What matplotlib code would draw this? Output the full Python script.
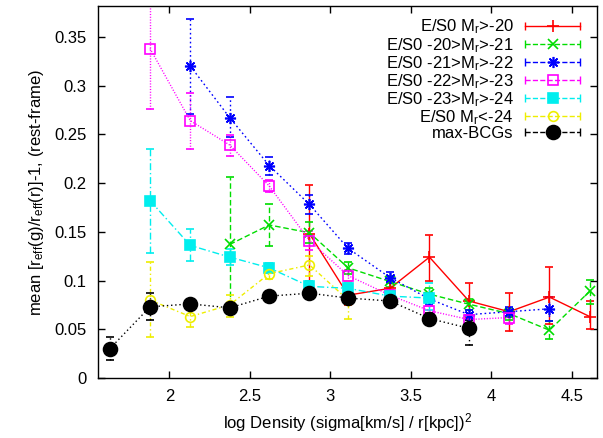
import matplotlib
matplotlib.use("Agg")
import matplotlib.pyplot as plt
from matplotlib.lines import Line2D
from matplotlib.legend_handler import HandlerBase
import numpy as np

plt.rcParams['font.family'] = ['Liberation Sans', 'DejaVu Sans']
plt.rcParams['mathtext.fontset'] = 'custom'
plt.rcParams['mathtext.rm'] = 'Liberation Sans'
plt.rcParams['mathtext.it'] = 'Liberation Sans:italic'

# density bin centres
x_bins = [1.63, 1.88, 2.13, 2.375, 2.62, 2.87, 3.11, 3.37, 3.615, 3.86, 4.11, 4.36, 4.61]

# E/S0 Mr>-20
red_x = [2.87, 3.11, 3.37, 3.615, 3.86, 4.11, 4.36, 4.61]
red_y = [0.148, 0.085, 0.092, 0.124, 0.079, 0.068, 0.083, 0.063]
red_lo = [0.100, 0.075, 0.082, 0.100, 0.062, 0.048, 0.055, 0.050]
red_hi = [0.198, 0.095, 0.100, 0.147, 0.0975, 0.087, 0.114, 0.079]

# E/S0 -20>Mr>-21
green_x = [2.375, 2.62, 2.87, 3.11, 3.37, 3.615, 3.86, 4.11, 4.36, 4.61]
green_y = [0.137, 0.157, 0.149, 0.113, 0.099, 0.086, 0.0757, 0.066, 0.049, 0.089]
green_lo = [0.075, 0.135, 0.138, 0.107, 0.093, 0.080, 0.070, 0.060, 0.040, 0.076]
green_hi = [0.206, 0.178, 0.160, 0.119, 0.105, 0.092, 0.081, 0.072, 0.058, 0.101]

# E/S0 -21>Mr>-22
blue_x = [2.13, 2.375, 2.62, 2.87, 3.11, 3.37, 3.615, 3.86, 4.11, 4.36]
blue_y = [0.320, 0.267, 0.218, 0.178, 0.133, 0.103, 0.081, 0.065, 0.068, 0.071]
blue_lo = [0.271, 0.247, 0.208, 0.168, 0.127, 0.097, 0.075, 0.060, 0.063, 0.058]
blue_hi = [0.368, 0.288, 0.227, 0.188, 0.139, 0.109, 0.087, 0.070, 0.073, 0.083]

# E/S0 -22>Mr>-23
mag_x = [1.88, 2.13, 2.375, 2.62, 2.87, 3.11, 3.37, 3.615, 3.86, 4.11]
mag_y = [0.338, 0.264, 0.239, 0.197, 0.141, 0.105, 0.085, 0.069, 0.060, 0.062]
mag_lo = [0.276, 0.235, 0.228, 0.191, 0.131, 0.099, 0.080, 0.064, 0.055, 0.055]
mag_hi = [0.400, 0.292, 0.249, 0.203, 0.151, 0.111, 0.090, 0.074, 0.065, 0.070]

# E/S0 -23>Mr>-24
cyan_x = [1.88, 2.13, 2.375, 2.62, 2.87, 3.11, 3.37, 3.615]
cyan_y = [0.182, 0.136, 0.124, 0.113, 0.094, 0.092, 0.084, 0.082]
cyan_lo = [0.128, 0.120, 0.116, 0.108, 0.089, 0.087, 0.079, 0.070]
cyan_hi = [0.235, 0.153, 0.132, 0.118, 0.099, 0.097, 0.089, 0.097]

# E/S0 Mr<-24
yel_x = [1.88, 2.13, 2.375, 2.62, 2.87, 3.11]
yel_y = [0.080, 0.063, 0.075, 0.107, 0.116, 0.080]
yel_lo = [0.042, 0.052, 0.063, 0.102, 0.105, 0.061]
yel_hi = [0.119, 0.071, 0.085, 0.112, 0.125, 0.099]

# max-BCGs
bcg_x = [1.63, 1.88, 2.13, 2.375, 2.62, 2.87, 3.11, 3.37, 3.615, 3.86]
bcg_y = [0.030, 0.073, 0.076, 0.072, 0.084, 0.087, 0.082, 0.079, 0.061, 0.051]
bcg_lo = [0.018, 0.059, 0.071, 0.067, 0.080, 0.083, 0.078, 0.075, 0.055, 0.034]
bcg_hi = [0.042, 0.087, 0.081, 0.077, 0.088, 0.091, 0.086, 0.083, 0.067, 0.060]

labels = [r'E/S0 M$_{\rm r}$>-20', r'E/S0 -20>M$_{\rm r}$>-21', r'E/S0 -21>M$_{\rm r}$>-22',
          r'E/S0 -22>M$_{\rm r}$>-23', r'E/S0 -23>M$_{\rm r}$>-24', r'E/S0 M$_{\rm r}$<-24',
          'max-BCGs']

series = [
    (red_x, red_y, red_lo, red_hi, dict(color='#ff0000', ls='-', marker='+', ms=8, mfc='none')),
    (green_x, green_y, green_lo, green_hi, dict(color='#00dd00', ls=(0, (4, 2)), marker='x', ms=6.5, mfc='none')),
    (blue_x, blue_y, blue_lo, blue_hi, dict(color='#0000ff', ls=(0, (1.2, 2)), marker=(8, 2, 0), ms=8, mfc='none')),
    (mag_x, mag_y, mag_lo, mag_hi, dict(color='#ff00ff', ls=(0, (0.8, 1.2)), marker='s', ms=7, mfc='none')),
    (cyan_x, cyan_y, cyan_lo, cyan_hi, dict(color='#00eeee', ls=(0, (5, 2, 1, 2)), marker='s', ms=6.5, mfc='#00eeee')),
    (yel_x, yel_y, yel_lo, yel_hi, dict(color='#eeee00', ls=(0, (3, 2, 1, 2)), marker='o', ms=7, mfc='none')),
    (bcg_x, bcg_y, bcg_lo, bcg_hi, dict(color='#000000', ls=(0, (1, 2)), marker='o', ms=10, mfc='#000000')),
]

fig = plt.figure(figsize=(6.03, 4.38), dpi=100)
ax = fig.add_axes([0.162, 0.137, 0.828, 0.849])

handles = []
for (xs, ys, lo, hi, st) in series:
    xs = np.array(xs); ys = np.array(ys)
    yerr = [ys - np.array(lo), np.array(hi) - ys]
    cont = ax.errorbar(xs, ys, yerr=yerr, color=st['color'], ls=st['ls'], lw=1.0,
                       marker=st['marker'], ms=st['ms'], mfc=st['mfc'], mec=st['color'], mew=1.2,
                       elinewidth=1.0, capsize=3, capthick=1.0)
    for lc in cont[2]:
        lc.set_linestyle(st['ls'])
    handles.append(Line2D([], [], color=st['color'], ls=st['ls'], lw=1.0, marker=st['marker'],
                          ms=st['ms'], mfc=st['mfc'], mec=st['color'], mew=1.2))


class GpHandler(HandlerBase):
    def create_artists(self, legend, orig, xdescent, ydescent, width, height, fontsize, trans):
        y = height / 2 - ydescent
        x0, x1 = -xdescent, width - xdescent
        line = Line2D([x0, x1], [y, y], color=orig.get_color(), ls=orig.get_linestyle(), lw=1.0)
        caps = Line2D([x0, x1], [y, y], color=orig.get_color(), ls='none', marker='|', ms=6, mew=1.0)
        mk = Line2D([(x0 + x1) / 2], [y], color=orig.get_color(), ls='none', marker=orig.get_marker(),
                    ms=orig.get_markersize(), mfc=orig.get_markerfacecolor(), mec=orig.get_color(), mew=1.2)
        for a in (line, caps, mk):
            a.set_transform(trans)
        return [line, caps, mk]


leg = ax.legend(handles, labels, loc='upper right', frameon=False, markerfirst=False,
                handler_map={Line2D: GpHandler()}, fontsize=12, handlelength=3.3,
                handletextpad=0.7, labelspacing=-0.04, borderaxespad=0.3,
                bbox_to_anchor=(0.99, 1.0))

ax.set_xlim(1.555, 4.655)
ax.set_ylim(0, 0.3815)
ax.set_xticks([2, 2.5, 3, 3.5, 4, 4.5])
ax.set_xticklabels(['2', '2.5', '3', '3.5', '4', '4.5'])
ax.set_yticks([0, 0.05, 0.1, 0.15, 0.2, 0.25, 0.3, 0.35])
ax.set_yticklabels(['0', '0.05', '0.1', '0.15', '0.2', '0.25', '0.3', '0.35'])
ax.tick_params(direction='in', top=True, right=True, length=5, width=1, labelsize=12, pad=8)
for s in ax.spines.values():
    s.set_linewidth(1.0)

ax.set_xlabel(r'log Density (sigma[km/s] / r[kpc])$^2$', fontsize=12, labelpad=5)
ax.set_ylabel(r'mean [r$_{\rm eff}$(g)/r$_{\rm eff}$(r)]-1, (rest-frame)', fontsize=12, labelpad=6)

fig.savefig('out.png', dpi=100)
